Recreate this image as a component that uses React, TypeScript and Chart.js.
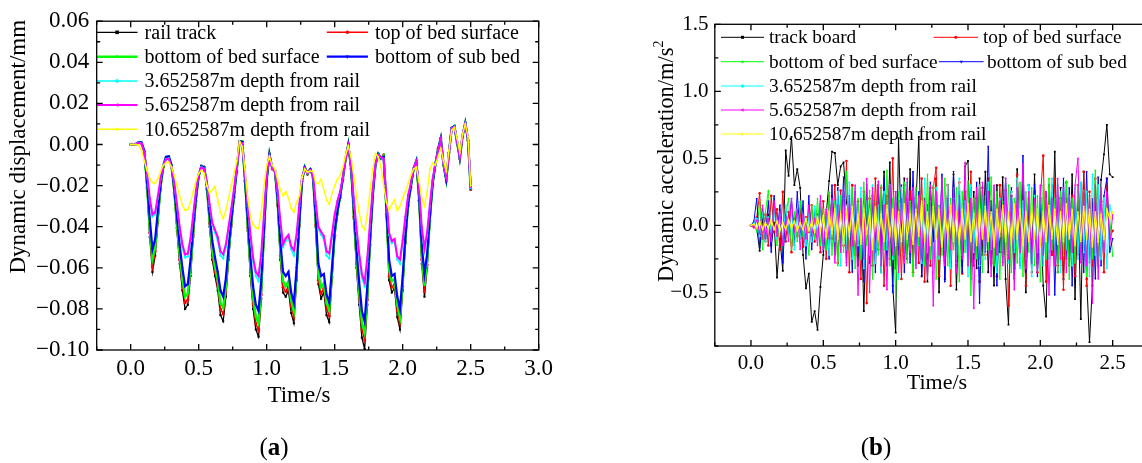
import React, { useEffect, useRef } from 'react';
import { Chart, registerables } from 'chart.js';

Chart.register(...registerables);

const FONT = "'Liberation Serif', 'Times New Roman', serif";

// time axis (s), shared by both panels
const TIME = [
  0.00, 0.02, 0.04, 0.06, 0.08, 0.10, 0.12, 0.14, 0.16, 0.18,
  0.20, 0.22, 0.24, 0.26, 0.28, 0.30, 0.32, 0.34, 0.36, 0.38,
  0.40, 0.42, 0.44, 0.46, 0.48, 0.50, 0.52, 0.54, 0.56, 0.58,
  0.60, 0.62, 0.64, 0.66, 0.68, 0.70, 0.72, 0.74, 0.76, 0.78,
  0.80, 0.82, 0.84, 0.86, 0.88, 0.90, 0.92, 0.94, 0.96, 0.98,
  1.00, 1.02, 1.04, 1.06, 1.08, 1.10, 1.12, 1.14, 1.16, 1.18,
  1.20, 1.22, 1.24, 1.26, 1.28, 1.30, 1.32, 1.34, 1.36, 1.38,
  1.40, 1.42, 1.44, 1.46, 1.48, 1.50, 1.52, 1.54, 1.56, 1.58,
  1.60, 1.62, 1.64, 1.66, 1.68, 1.70, 1.72, 1.74, 1.76, 1.78,
  1.80, 1.82, 1.84, 1.86, 1.88, 1.90, 1.92, 1.94, 1.96, 1.98,
  2.00, 2.02, 2.04, 2.06, 2.08, 2.10, 2.12, 2.14, 2.16, 2.18,
  2.20, 2.22, 2.24, 2.26, 2.28, 2.30, 2.32, 2.34, 2.36, 2.38,
  2.40, 2.42, 2.44, 2.46, 2.48, 2.50,
];

// ---------- panel (a): dynamic displacement (mm) ----------
const DISP_RAIL = [
  0, 0, 0.0002, 0.0010, 0.0006, -0.0040, -0.0220, -0.0450, -0.0620, -0.0540,
  -0.0380, -0.0220, -0.0110, -0.0065, -0.0060, -0.0110, -0.0240, -0.0420, -0.0580, -0.0710,
  -0.0800, -0.0780, -0.0640, -0.0450, -0.0280, -0.0160, -0.0105, -0.0110, -0.0220, -0.0400,
  -0.0560, -0.0640, -0.0710, -0.0830, -0.0860, -0.0740, -0.0560, -0.0400, -0.0260, -0.0130,
  0.0015, 0.0015, -0.0180, -0.0420, -0.0640, -0.0800, -0.0900, -0.0935, -0.0750, -0.0460,
  -0.0180, -0.0045, -0.0120, -0.0130, -0.0300, -0.0560, -0.0720, -0.0740, -0.0710, -0.0820,
  -0.0870, -0.0660, -0.0400, -0.0180, -0.0110, -0.0145, -0.0120, -0.0160, -0.0400, -0.0680,
  -0.0750, -0.0720, -0.0830, -0.0865, -0.0660, -0.0450, -0.0340, -0.0260, -0.0170, -0.0070,
  0.0003, -0.0120, -0.0360, -0.0600, -0.0780, -0.0940, -0.0995, -0.0780, -0.0500, -0.0260,
  -0.0100, -0.0045, -0.0070, -0.0050, -0.0350, -0.0660, -0.0720, -0.0700, -0.0840, -0.0900,
  -0.0710, -0.0480, -0.0300, -0.0210, -0.0120, -0.0080, -0.0280, -0.0580, -0.0740, -0.0600,
  -0.0380, -0.0200, -0.0100, -0.0020, 0.0030, -0.0100, -0.0180, -0.0040, 0.0080, 0.0090,
  0.0010, -0.0070, 0.0040, 0.0105, 0.0020, -0.0220,
];
const DISP_TOP_BED = [
  0, 0, 0.0002, 0.0010, 0.0006, -0.0040, -0.0210, -0.0430, -0.0595, -0.0520,
  -0.0370, -0.0215, -0.0110, -0.0065, -0.0060, -0.0110, -0.0235, -0.0405, -0.0560, -0.0685,
  -0.0770, -0.0755, -0.0620, -0.0440, -0.0275, -0.0158, -0.0105, -0.0110, -0.0215, -0.0385,
  -0.0540, -0.0620, -0.0685, -0.0800, -0.0825, -0.0715, -0.0545, -0.0390, -0.0255, -0.0128,
  0.0015, 0.0014, -0.0175, -0.0405, -0.0620, -0.0775, -0.0870, -0.0905, -0.0730, -0.0450,
  -0.0178, -0.0045, -0.0118, -0.0128, -0.0290, -0.0540, -0.0695, -0.0715, -0.0690, -0.0790,
  -0.0840, -0.0645, -0.0392, -0.0178, -0.0110, -0.0144, -0.0120, -0.0158, -0.0390, -0.0660,
  -0.0725, -0.0700, -0.0800, -0.0835, -0.0645, -0.0442, -0.0335, -0.0257, -0.0168, -0.0070,
  0.0003, -0.0118, -0.0350, -0.0580, -0.0750, -0.0900, -0.0950, -0.0755, -0.0488, -0.0255,
  -0.0099, -0.0045, -0.0069, -0.0052, -0.0340, -0.0640, -0.0695, -0.0680, -0.0810, -0.0870,
  -0.0690, -0.0470, -0.0296, -0.0208, -0.0119, -0.0080, -0.0272, -0.0560, -0.0715, -0.0585,
  -0.0372, -0.0197, -0.0099, -0.0021, 0.0030, -0.0099, -0.0177, -0.0040, 0.0080, 0.0090,
  0.0010, -0.0069, 0.0040, 0.0105, 0.0021, -0.0218,
];
const DISP_BOTTOM_BED = [
  0, 0, 0.0002, 0.0011, 0.0008, -0.0035, -0.0200, -0.0410, -0.0555, -0.0500,
  -0.0350, -0.0205, -0.0105, -0.0062, -0.0058, -0.0105, -0.0225, -0.0390, -0.0535, -0.0655,
  -0.0740, -0.0725, -0.0600, -0.0425, -0.0265, -0.0155, -0.0104, -0.0110, -0.0205, -0.0370,
  -0.0515, -0.0595, -0.0660, -0.0770, -0.0795, -0.0690, -0.0525, -0.0380, -0.0250, -0.0125,
  0.0016, 0.0014, -0.0170, -0.0390, -0.0595, -0.0745, -0.0835, -0.0870, -0.0705, -0.0435,
  -0.0175, -0.0046, -0.0115, -0.0126, -0.0280, -0.0515, -0.0665, -0.0690, -0.0665, -0.0760,
  -0.0810, -0.0625, -0.0382, -0.0175, -0.0110, -0.0143, -0.0121, -0.0155, -0.0375, -0.0630,
  -0.0695, -0.0675, -0.0770, -0.0805, -0.0625, -0.0432, -0.0330, -0.0254, -0.0166, -0.0070,
  0.0002, -0.0115, -0.0335, -0.0555, -0.0720, -0.0865, -0.0915, -0.0730, -0.0475, -0.0250,
  -0.0098, -0.0046, -0.0068, -0.0055, -0.0325, -0.0610, -0.0665, -0.0655, -0.0780, -0.0840,
  -0.0670, -0.0460, -0.0292, -0.0206, -0.0118, -0.0080, -0.0262, -0.0535, -0.0685, -0.0565,
  -0.0362, -0.0193, -0.0098, -0.0022, 0.0031, -0.0098, -0.0174, -0.0041, 0.0081, 0.0090,
  0.0011, -0.0068, 0.0041, 0.0105, 0.0022, -0.0216,
];
const DISP_SUB_BED = [
  0, 0, 0.0003, 0.0012, 0.0010, -0.0030, -0.0180, -0.0360, -0.0510, -0.0460,
  -0.0320, -0.0190, -0.0100, -0.0060, -0.0058, -0.0100, -0.0210, -0.0350, -0.0490, -0.0600,
  -0.0690, -0.0680, -0.0560, -0.0400, -0.0255, -0.0150, -0.0105, -0.0112, -0.0195, -0.0340,
  -0.0470, -0.0550, -0.0620, -0.0710, -0.0740, -0.0650, -0.0500, -0.0365, -0.0240, -0.0120,
  0.0014, 0.0012, -0.0160, -0.0360, -0.0545, -0.0690, -0.0780, -0.0810, -0.0660, -0.0410,
  -0.0170, -0.0048, -0.0112, -0.0125, -0.0260, -0.0470, -0.0620, -0.0640, -0.0620, -0.0720,
  -0.0770, -0.0600, -0.0370, -0.0172, -0.0112, -0.0142, -0.0122, -0.0150, -0.0345, -0.0580,
  -0.0640, -0.0630, -0.0730, -0.0770, -0.0600, -0.0420, -0.0322, -0.0250, -0.0165, -0.0070,
  0.0000, -0.0110, -0.0310, -0.0510, -0.0670, -0.0810, -0.0860, -0.0690, -0.0455, -0.0243,
  -0.0097, -0.0047, -0.0066, -0.0060, -0.0300, -0.0560, -0.0640, -0.0630, -0.0740, -0.0800,
  -0.0640, -0.0445, -0.0285, -0.0203, -0.0117, -0.0080, -0.0245, -0.0490, -0.0630, -0.0530,
  -0.0345, -0.0188, -0.0097, -0.0024, 0.0031, -0.0097, -0.0170, -0.0042, 0.0081, 0.0089,
  0.0012, -0.0066, 0.0042, 0.0104, 0.0024, -0.0214,
];
const DISP_D365 = [
  0, 0, 0.0002, 0.0009, 0.0004, -0.0040, -0.0150, -0.0270, -0.0350, -0.0340,
  -0.0260, -0.0170, -0.0100, -0.0070, -0.0068, -0.0110, -0.0190, -0.0300, -0.0410, -0.0500,
  -0.0550, -0.0545, -0.0470, -0.0350, -0.0230, -0.0145, -0.0110, -0.0118, -0.0185, -0.0300,
  -0.0390, -0.0430, -0.0470, -0.0540, -0.0555, -0.0500, -0.0410, -0.0315, -0.0220, -0.0115,
  0.0010, 0.0005, -0.0140, -0.0300, -0.0450, -0.0570, -0.0640, -0.0665, -0.0550, -0.0350,
  -0.0150, -0.0055, -0.0115, -0.0130, -0.0230, -0.0380, -0.0500, -0.0470, -0.0450, -0.0510,
  -0.0540, -0.0450, -0.0300, -0.0160, -0.0115, -0.0140, -0.0125, -0.0145, -0.0290, -0.0410,
  -0.0440, -0.0460, -0.0540, -0.0555, -0.0450, -0.0350, -0.0280, -0.0230, -0.0160, -0.0070,
  -0.0005, -0.0105, -0.0270, -0.0420, -0.0550, -0.0650, -0.0690, -0.0570, -0.0390, -0.0220,
  -0.0095, -0.0050, -0.0062, -0.0070, -0.0260, -0.0440, -0.0480, -0.0470, -0.0560, -0.0580,
  -0.0480, -0.0360, -0.0250, -0.0190, -0.0115, -0.0082, -0.0220, -0.0410, -0.0520, -0.0440,
  -0.0300, -0.0175, -0.0095, -0.0030, 0.0025, -0.0095, -0.0160, -0.0045, 0.0078, 0.0086,
  0.0014, -0.0062, 0.0045, 0.0102, 0.0028, -0.0210,
];
const DISP_D565 = [
  0, 0, 0.0002, 0.0008, 0.0003, -0.0040, -0.0140, -0.0260, -0.0340, -0.0330,
  -0.0250, -0.0165, -0.0100, -0.0072, -0.0070, -0.0110, -0.0185, -0.0290, -0.0400, -0.0485,
  -0.0535, -0.0530, -0.0455, -0.0340, -0.0225, -0.0145, -0.0112, -0.0120, -0.0180, -0.0290,
  -0.0380, -0.0415, -0.0450, -0.0520, -0.0535, -0.0485, -0.0400, -0.0310, -0.0215, -0.0112,
  0.0010, 0.0005, -0.0135, -0.0290, -0.0435, -0.0550, -0.0620, -0.0640, -0.0530, -0.0340,
  -0.0148, -0.0057, -0.0115, -0.0130, -0.0225, -0.0370, -0.0485, -0.0455, -0.0440, -0.0495,
  -0.0515, -0.0435, -0.0290, -0.0158, -0.0117, -0.0140, -0.0126, -0.0145, -0.0280, -0.0400,
  -0.0425, -0.0445, -0.0520, -0.0530, -0.0435, -0.0340, -0.0275, -0.0228, -0.0158, -0.0072,
  -0.0006, -0.0102, -0.0262, -0.0405, -0.0530, -0.0630, -0.0670, -0.0550, -0.0375, -0.0215,
  -0.0094, -0.0052, -0.0060, -0.0072, -0.0255, -0.0430, -0.0470, -0.0460, -0.0545, -0.0560,
  -0.0465, -0.0350, -0.0245, -0.0188, -0.0114, -0.0083, -0.0215, -0.0400, -0.0505, -0.0425,
  -0.0290, -0.0170, -0.0094, -0.0032, 0.0024, -0.0094, -0.0157, -0.0046, 0.0077, 0.0085,
  0.0015, -0.0060, 0.0046, 0.0101, 0.0030, -0.0208,
];
const DISP_D1065 = [
  0, 0, 0, -0.0005, -0.0030, -0.0080, -0.0125, -0.0165, -0.0185, -0.0188,
  -0.0165, -0.0130, -0.0100, -0.0088, -0.0086, -0.0110, -0.0150, -0.0200, -0.0250, -0.0295,
  -0.0320, -0.0315, -0.0280, -0.0230, -0.0175, -0.0140, -0.0126, -0.0140, -0.0200, -0.0235,
  -0.0220, -0.0205, -0.0270, -0.0330, -0.0360, -0.0320, -0.0260, -0.0200, -0.0140, -0.0080,
  0.0015, -0.0010, -0.0120, -0.0260, -0.0350, -0.0390, -0.0405, -0.0410, -0.0330, -0.0200,
  -0.0100, -0.0060, -0.0100, -0.0120, -0.0170, -0.0220, -0.0250, -0.0230, -0.0260, -0.0310,
  -0.0330, -0.0280, -0.0250, -0.0160, -0.0120, -0.0135, -0.0130, -0.0130, -0.0185, -0.0190,
  -0.0170, -0.0220, -0.0270, -0.0290, -0.0240, -0.0200, -0.0170, -0.0150, -0.0110, -0.0050,
  -0.0008, -0.0060, -0.0150, -0.0250, -0.0330, -0.0395, -0.0415, -0.0340, -0.0220, -0.0120,
  -0.0045, -0.0060, -0.0110, -0.0200, -0.0280, -0.0320, -0.0290, -0.0270, -0.0320, -0.0300,
  -0.0260, -0.0230, -0.0190, -0.0150, -0.0120, -0.0110, -0.0180, -0.0260, -0.0300, -0.0230,
  -0.0120, -0.0090, -0.0100, -0.0060, -0.0020, -0.0080, -0.0130, -0.0030, 0.0070, 0.0082,
  0.0030, -0.0040, 0.0050, 0.0098, 0.0040, -0.0200,
];

// ---------- panel (b): dynamic acceleration (m/s^2) ----------
const ACC_TRACK = [
  0, 0.01, -0.02, -0.19, 0.05, -0.12, 0.08, -0.15, 0.02, -0.39,
  -0.10, -0.34, 0.56, 0.37, 0.66, 0.30, 0.42, 0.28, -0.22, -0.47,
  -0.36, -0.72, -0.64, -0.78, -0.46, -0.22, 0.08, 0.33, 0.55, 0.54,
  0.30, 0.44, 0.47, 0.17, 0.08, -0.20, 0.12, -0.30, 0.18, -0.64,
  0.10, -0.28, 0.22, -0.15, 0.30, -0.35, 0.40, -0.20, 0.47, -0.45,
  -0.80, 0.65, -0.10, 0.35, -0.25, 0.42, -0.30, 0.15, 0.66, -0.38,
  0.20, -0.42, 0.28, -0.12, 0.35, -0.50, 0.22, -0.40, 0.30, -0.18,
  0.38, -0.48, 0.15, -0.30, 0.44, 0.48, -0.40, 0.25, -0.32, 0.35,
  -0.22, 0.40, -0.35, 0.18, -0.45, 0.30, -0.20, 0.36, -0.40, -0.74,
  0.25, -0.30, 0.42, -0.15, 0.30, -0.50, 0.20, -0.35, 0.38, -0.28,
  0.15, -0.45, -0.68, 0.30, -0.22, 0.55, -0.35, 0.28, -0.40, 0.20,
  -0.30, 0.38, -0.55, 0.25, -0.70, 0.40, -0.40, -0.87, -0.45, 0.20,
  -0.30, 0.34, 0.53, 0.75, 0.38, 0.36,
];
const ACC_TOP_BED = [
  0, -0.01, 0.06, 0.24, -0.10, 0.08, -0.15, 0.22, -0.05, 0.12,
  -0.18, 0.25, -0.12, 0.10, -0.20, 0.05, -0.08, 0.12, -0.16, 0.06,
  -0.05, 0.15, -0.12, 0.08, -0.20, 0.18, -0.25, 0.22, -0.10, 0.30,
  -0.28, 0.26, -0.15, 0.48, -0.35, 0.30, -0.22, 0.18, -0.40, 0.25,
  -0.58, 0.20, -0.30, 0.35, -0.18, 0.28, -0.45, 0.22, -0.25, 0.50,
  -0.32, 0.18, -0.40, 0.30, -0.15, 0.25, -0.35, 0.20, -0.28, 0.35,
  -0.42, 0.15, -0.30, 0.28, 0.43, -0.38, 0.22, -0.20, 0.30, -0.45,
  0.18, -0.25, 0.32, -0.36, 0.25, -0.15, 0.40, -0.30, 0.20, -0.42,
  0.28, -0.22, 0.35, -0.28, 0.15, -0.38, 0.30, -0.20, 0.26, -0.60,
  0.22, -0.32, 0.38, -0.25, 0.18, -0.45, 0.30, -0.18, 0.25, -0.35,
  0.20, 0.52, -0.42, 0.28, -0.22, 0.35, -0.30, 0.20, -0.48, 0.32,
  -0.25, 0.22, -0.38, 0.30, -0.20, 0.40, -0.45, 0.25, -0.30, 0.35,
  -0.22, 0.18, -0.35, 0.35, -0.10, -0.04,
];
const ACC_BOTTOM_BED = [
  0, 0.02, -0.05, 0.18, -0.18, 0.10, 0.26, -0.12, 0.20, -0.15,
  0.12, -0.20, 0.08, 0.20, -0.18, 0.10, -0.12, 0.18, -0.08, 0.05,
  -0.22, 0.15, -0.10, 0.20, -0.15, 0.12, -0.18, 0.25, -0.22, 0.18,
  -0.30, 0.22, -0.20, 0.40, -0.18, 0.28, -0.32, 0.20, -0.25, 0.32,
  -0.15, 0.26, -0.40, 0.18, -0.22, 0.30, -0.18, 0.41, -0.30, 0.20,
  -0.55, 0.25, -0.20, 0.32, -0.28, 0.18, -0.38, 0.28, -0.15, 0.22,
  -0.30, 0.38, -0.25, 0.30, -0.40, 0.15, -0.22, 0.35, -0.30, 0.20,
  -0.18, 0.28, -0.42, 0.25, -0.20, 0.33, -0.52, 0.20, -0.25, 0.30,
  -0.35, 0.22, -0.18, 0.36, -0.30, 0.25, -0.40, 0.18, -0.22, 0.30,
  -0.35, 0.20, -0.28, 0.32, -0.38, 0.25, -0.20, 0.28, -0.30, 0.22,
  -0.42, 0.30, -0.25, 0.35, -0.18, 0.20, -0.35, 0.25, -0.22, 0.33,
  -0.40, 0.20, -0.28, 0.30, -0.18, 0.26, -0.38, 0.22, -0.25, 0.41,
  -0.30, 0.28, -0.20, 0.18, 0.05, -0.23,
];
const ACC_SUB_BED = [
  0, 0.03, 0.20, -0.17, 0.12, -0.10, 0.18, -0.20, 0.22, -0.08,
  0.15, -0.28, 0.10, -0.05, 0.20, -0.15, 0.25, -0.10, 0.18, -0.25,
  0.22, -0.18, 0.12, -0.08, 0.16, -0.20, 0.10, -0.25, 0.30, -0.22,
  0.28, -0.18, 0.36, -0.28, 0.20, -0.35, 0.25, -0.20, 0.15, -0.42,
  0.30, -0.25, 0.22, -0.35, 0.28, -0.18, 0.35, -0.30, 0.18, -0.50,
  0.25, -0.22, 0.30, -0.35, 0.20, -0.28, 0.40, -0.20, 0.25, -0.38,
  0.18, -0.25, 0.32, -0.30, 0.22, -0.18, 0.38, -0.42, 0.20, -0.28,
  0.40, -0.22, 0.25, -0.35, 0.18, -0.30, 0.28, -0.25, 0.32, -0.58,
  0.22, -0.20, 0.59, -0.30, 0.25, -0.45, 0.20, -0.28, 0.35, -0.22,
  0.28, -0.40, 0.22, -0.30, 0.52, -0.35, 0.20, -0.25, 0.30, -0.38,
  0.18, -0.28, 0.25, -0.20, 0.30, -0.52, 0.22, -0.30, 0.35, -0.25,
  0.28, -0.45, 0.20, -0.22, 0.32, -0.35, 0.40, -0.28, 0.20, -0.40,
  0.36, -0.30, 0.22, 0.35, -0.20, -0.10,
];
const ACC_D365 = [
  0, 0.01, 0.05, -0.08, 0.10, -0.12, 0.06, -0.05, 0.12, -0.10,
  0.08, -0.12, 0.15, -0.06, 0.10, -0.18, 0.12, -0.10, 0.05, -0.15,
  0.08, -0.12, 0.14, -0.10, 0.18, -0.15, 0.12, -0.22, 0.18, -0.12,
  0.25, -0.30, 0.20, -0.18, 0.32, -0.25, 0.22, -0.15, 0.28, -0.32,
  0.18, -0.22, 0.30, -0.28, 0.15, -0.35, 0.25, -0.18, 0.30, -0.25,
  0.20, -0.40, 0.28, -0.22, 0.32, -0.18, 0.25, -0.30, 0.20, -0.28,
  0.35, -0.20, 0.18, -0.35, 0.28, -0.25, 0.22, -0.18, 0.30, -0.32,
  0.20, -0.28, 0.35, -0.22, 0.18, -0.38, 0.30, -0.20, 0.25, -0.30,
  0.22, -0.25, 0.32, -0.18, 0.28, -0.35, 0.20, -0.22, 0.30, -0.28,
  0.25, -0.20, 0.35, -0.32, 0.18, -0.25, 0.30, -0.38, 0.22, -0.20,
  0.28, -0.30, 0.20, -0.25, 0.35, -0.22, 0.30, -0.35, 0.25, -0.18,
  0.22, -0.30, 0.28, -0.25, 0.32, -0.20, 0.25, -0.38, 0.38, -0.22,
  0.30, -0.25, 0.20, -0.32, 0.15, 0.05,
];
const ACC_D565 = [
  0, -0.02, 0.04, -0.06, 0.15, -0.10, 0.05, -0.12, 0.18, -0.08,
  0.10, -0.15, 0.06, -0.12, 0.20, -0.05, 0.12, -0.18, 0.08, -0.10,
  0.15, -0.08, 0.05, -0.15, 0.22, -0.18, 0.12, -0.10, 0.20, -0.28,
  0.15, -0.20, 0.25, -0.30, 0.22, -0.15, 0.30, -0.52, 0.20, -0.25,
  0.35, -0.50, 0.28, -0.20, 0.33, -0.30, 0.15, -0.48, 0.30, -0.22,
  0.25, -0.35, 0.20, -0.28, 0.35, -0.20, 0.28, -0.32, 0.22, -0.25,
  0.18, -0.40, 0.30, -0.60, 0.25, -0.22, 0.35, -0.30, 0.20, -0.18,
  0.28, -0.35, 0.22, -0.25, 0.47, -0.30, 0.20, -0.62, 0.28, -0.25,
  0.32, -0.20, 0.25, -0.38, 0.30, -0.22, 0.18, -0.30, 0.35, -0.25,
  0.22, -0.48, 0.28, -0.20, 0.46, -0.32, 0.25, -0.28, 0.20, -0.35,
  0.30, -0.22, 0.25, -0.52, 0.20, -0.30, 0.35, -0.25, 0.28, -0.35,
  0.22, -0.20, 0.30, 0.50, -0.28, 0.25, -0.30, 0.22, -0.58, 0.30,
  -0.40, 0.28, -0.20, 0.25, -0.15, 0.08,
];
const ACC_D1065 = [
  0, 0.01, -0.02, 0.03, -0.03, 0.02, -0.02, 0.04, -0.03, 0.03,
  -0.04, 0.02, -0.03, 0.04, -0.02, 0.03, -0.04, 0.02, -0.03, 0.05,
  -0.04, 0.03, -0.05, 0.06, -0.04, 0.07, -0.08, 0.10, -0.06, 0.12,
  -0.10, 0.08, -0.12, 0.10, -0.08, 0.14, -0.10, 0.08, -0.14, 0.12,
  -0.06, 0.10, -0.18, 0.14, -0.10, 0.08, -0.12, 0.15, -0.08, 0.12,
  -0.15, 0.10, -0.12, 0.16, -0.10, 0.08, -0.14, 0.12, -0.08, 0.18,
  -0.12, 0.10, -0.15, 0.14, -0.10, 0.12, -0.16, 0.10, -0.08, 0.15,
  -0.12, 0.10, -0.14, 0.12, -0.10, 0.16, -0.12, 0.08, -0.15, 0.12,
  -0.10, 0.14, -0.12, 0.10, -0.16, 0.12, -0.08, 0.15, -0.12, 0.10,
  -0.14, 0.16, -0.10, 0.12, -0.15, 0.10, -0.12, 0.14, -0.10, 0.12,
  -0.16, 0.10, -0.12, 0.15, -0.10, 0.12, -0.14, 0.10, -0.12, 0.16,
  -0.10, 0.12, -0.15, 0.10, -0.12, 0.14, -0.10, 0.12, -0.16, 0.10,
  -0.12, 0.08, -0.10, 0.12, 0.05, 0.10,
];

const LABELS_A = [
  'rail track', 'top of bed surface', 'bottom of bed surface', 'bottom of sub bed',
  '3.652587m depth from rail', '5.652587m depth from rail', '10.652587m depth from rail',
];
const LABELS_B = [
  'track board', 'top of bed surface', 'bottom of bed surface', 'bottom of sub bed',
  '3.652587m depth from rail', '5.652587m depth from rail', '10.652587m depth from rail',
];
const COLORS = ['#000000', '#ff0000', '#00ff00', '#0000ff', '#00ffff', '#ff00ff', '#ffff00'];
const WIDTHS_A = [1.3, 1.5, 2.4, 2.2, 1.5, 2.0, 1.4];
const MARKERS: { style: string; rot: number }[] = [
  { style: 'rect', rot: 0 }, { style: 'circle', rot: 0 }, { style: 'triangle', rot: 0 },
  { style: 'triangle', rot: 180 }, { style: 'rectRot', rot: 0 }, { style: 'triangle', rot: -90 },
  { style: 'triangle', rot: 90 },
];

const fmt = (v: number, d: number) => (v < -1e-9 ? '\u2212' : '') + Math.abs(v).toFixed(d);

type LegendItem = { idx: number; label: string; x1: number; x2: number; tx: number; y: number };
type Part = { t: string; bold?: boolean; size?: number; rise?: number };
type Txt = { parts: Part[]; x: number; y: number; size: number; rot?: boolean; align: 'center' | 'left' };

function drawMarker(ctx: CanvasRenderingContext2D, idx: number, x: number, y: number, r: number) {
  const m = MARKERS[idx];
  ctx.save();
  ctx.fillStyle = COLORS[idx];
  ctx.translate(x, y);
  ctx.rotate((m.rot * Math.PI) / 180);
  ctx.beginPath();
  if (m.style === 'rect') ctx.rect(-r, -r, 2 * r, 2 * r);
  else if (m.style === 'circle') ctx.arc(0, 0, r, 0, Math.PI * 2);
  else if (m.style === 'rectRot') {
    ctx.moveTo(0, -r * 1.3); ctx.lineTo(r * 1.3, 0); ctx.lineTo(0, r * 1.3); ctx.lineTo(-r * 1.3, 0); ctx.closePath();
  } else {
    ctx.moveTo(0, -r * 1.2); ctx.lineTo(r * 1.1, r * 0.7); ctx.lineTo(-r * 1.1, r * 0.7); ctx.closePath();
  }
  ctx.fill();
  ctx.restore();
}

function drawTxt(ctx: CanvasRenderingContext2D, tx: Txt) {
  ctx.save();
  ctx.translate(tx.x, tx.y);
  if (tx.rot) ctx.rotate(-Math.PI / 2);
  ctx.textBaseline = 'alphabetic';
  ctx.textAlign = 'left';
  ctx.fillStyle = '#000';
  const fontOf = (p: Part) => `${p.bold ? 'bold ' : ''}${p.size ?? tx.size}px ${FONT}`;
  let total = 0;
  for (const p of tx.parts) { ctx.font = fontOf(p); total += ctx.measureText(p.t).width; }
  let cx = tx.align === 'center' ? -total / 2 : 0;
  for (const p of tx.parts) {
    ctx.font = fontOf(p);
    ctx.fillText(p.t, cx, -(p.rise ?? 0));
    cx += ctx.measureText(p.t).width;
  }
  ctx.restore();
}

function decorPlugin(legend: LegendItem[], legendSize: number, widths: number[], markR: number, texts: Txt[]) {
  return {
    id: 'decor',
    afterDatasetsDraw(chart: any) {
      const ctx: CanvasRenderingContext2D = chart.ctx;
      ctx.save();
      for (const it of legend) {
        ctx.strokeStyle = COLORS[it.idx];
        ctx.lineWidth = widths[it.idx];
        ctx.beginPath();
        ctx.moveTo(it.x1, it.y);
        ctx.lineTo(it.x2, it.y);
        ctx.stroke();
        drawMarker(ctx, it.idx, (it.x1 + it.x2) / 2, it.y, markR);
        ctx.fillStyle = '#000';
        ctx.font = `${legendSize}px ${FONT}`;
        ctx.textBaseline = 'middle';
        ctx.textAlign = 'left';
        ctx.fillText(it.label, it.tx, it.y + 1);
      }
      ctx.restore();
    },
    afterDraw(chart: any) {
      const ctx: CanvasRenderingContext2D = chart.ctx;
      const a = chart.chartArea;
      const xs = chart.scales.x;
      const ys = chart.scales.y;
      ctx.save();
      ctx.strokeStyle = '#000';
      ctx.lineWidth = 1.3;
      ctx.strokeRect(a.left, a.top, a.right - a.left, a.bottom - a.top);
      ctx.beginPath();
      for (const t of xs.ticks) {
        const p = xs.getPixelForValue(t.value);
        const len = t.label ? 6 : 3.5;
        ctx.moveTo(p, a.bottom); ctx.lineTo(p, a.bottom - len);
        ctx.moveTo(p, a.top); ctx.lineTo(p, a.top + len);
      }
      for (const t of ys.ticks) {
        const p = ys.getPixelForValue(t.value);
        const len = t.label ? 6 : 3.5;
        ctx.moveTo(a.left, p); ctx.lineTo(a.left + len, p);
        ctx.moveTo(a.right, p); ctx.lineTo(a.right - len, p);
      }
      ctx.stroke();
      ctx.restore();
      for (const tx of texts) drawTxt(ctx, tx);
    },
  };
}

function makeDatasets(series: number[][], labels: string[], widths: number[], pr: number) {
  return series.map((ys, i) => ({
    label: labels[i],
    data: ys.map((y, j) => ({ x: TIME[j], y })),
    borderColor: COLORS[i],
    backgroundColor: COLORS[i],
    borderWidth: widths[i],
    pointRadius: pr,
    pointStyle: MARKERS[i].style,
    pointRotation: MARKERS[i].rot,
    pointBorderWidth: 0,
    pointHoverRadius: 0,
    tension: 0,
    fill: false,
    order: series.length - 1 - i,
  }));
}

function axisBase(size: number, padding: number) {
  return {
    type: 'linear' as const,
    grid: { display: false, drawTicks: false },
    border: { display: false },
    ticks: {
      color: '#000',
      font: { family: FONT, size },
      padding,
      autoSkip: false,
      maxRotation: 0,
      minRotation: 0,
      maxTicksLimit: 100,
    },
  };
}

function configA(): any {
  const series = [DISP_RAIL, DISP_TOP_BED, DISP_BOTTOM_BED, DISP_SUB_BED, DISP_D365, DISP_D565, DISP_D1065];
  const c1 = { x1: 96.7, x2: 137.5, tx: 144.6 };
  const c2 = { x1: 326.8, x2: 367.9, tx: 375 };
  const legend: LegendItem[] = [
    { idx: 0, label: LABELS_A[0], ...c1, y: 32.3 },
    { idx: 1, label: LABELS_A[1], ...c2, y: 32.3 },
    { idx: 2, label: LABELS_A[2], ...c1, y: 56.7 },
    { idx: 3, label: LABELS_A[3], ...c2, y: 56.7 },
    { idx: 4, label: LABELS_A[4], ...c1, y: 81 },
    { idx: 5, label: LABELS_A[5], ...c1, y: 105 },
    { idx: 6, label: LABELS_A[6], ...c1, y: 129.3 },
  ];
  const texts: Txt[] = [
    { parts: [{ t: 'Dynamic displacement/mm' }], x: 25, y: 146.7, size: 23, rot: true, align: 'center' },
    { parts: [{ t: 'Time/s' }], x: 299, y: 401.7, size: 23, align: 'center' },
    { parts: [{ t: '(' }, { t: 'a', bold: true }, { t: ')' }], x: 274, y: 455, size: 25, align: 'center' },
  ];
  const xb = axisBase(23, 5);
  const yb = axisBase(23, 7.4);
  return {
    type: 'line',
    data: { datasets: makeDatasets(series, LABELS_A, WIDTHS_A, 1.5) },
    options: {
      animation: false,
      responsive: false,
      devicePixelRatio: 1,
      events: [],
      layout: { padding: { left: 0, right: 32.3, top: 20.4, bottom: 0 } },
      plugins: { legend: { display: false }, tooltip: { enabled: false } },
      scales: {
        x: {
          ...xb, min: -0.25, max: 3.0,
          ticks: { ...xb.ticks, stepSize: 0.25, callback: (v: any) => (Math.round(Number(v) * 100) % 50 === 0 ? fmt(Number(v), 1) : '') },
          afterFit: (s: any) => { s.height = 113; },
        },
        y: {
          ...yb, min: -0.1, max: 0.06,
          ticks: { ...yb.ticks, stepSize: 0.01, callback: (v: any) => (Math.round(Number(v) * 100) % 2 === 0 ? fmt(Number(v), 2) : '') },
          afterFit: (s: any) => { s.width = 96.7; },
        },
      },
    },
    plugins: [decorPlugin(legend, 20, WIDTHS_A, 1.8, texts)],
  };
}

const B_OFF = 571;
const WIDTHS_B = [1, 1, 1, 1, 1, 1, 1.2];

function configB(): any {
  const series = [ACC_TRACK, ACC_TOP_BED, ACC_BOTTOM_BED, ACC_SUB_BED, ACC_D365, ACC_D565, ACC_D1065];
  const c1 = { x1: 721 - B_OFF, x2: 764 - B_OFF, tx: 769 - B_OFF };
  const legend: LegendItem[] = [
    { idx: 0, label: LABELS_B[0], ...c1, y: 37.3 },
    { idx: 1, label: LABELS_B[1], x1: 933.6 - B_OFF, x2: 978 - B_OFF, tx: 983 - B_OFF, y: 37.3 },
    { idx: 2, label: LABELS_B[2], ...c1, y: 61.7 },
    { idx: 3, label: LABELS_B[3], x1: 939 - B_OFF, x2: 983.6 - B_OFF, tx: 987 - B_OFF, y: 61.7 },
    { idx: 4, label: LABELS_B[4], ...c1, y: 86 },
    { idx: 5, label: LABELS_B[5], ...c1, y: 110 },
    { idx: 6, label: LABELS_B[6], ...c1, y: 134 },
  ];
  const texts: Txt[] = [
    { parts: [{ t: 'Dynamic acceleration/m/s' }, { t: '2', size: 14, rise: 10 }], x: 673 - B_OFF, y: 282, size: 22.4, rot: true, align: 'left' },
    { parts: [{ t: 'Time/s' }], x: 937 - B_OFF, y: 389.3, size: 22, align: 'center' },
    { parts: [{ t: '(' }, { t: 'b', bold: true }, { t: ')' }], x: 876 - B_OFF, y: 455, size: 25, align: 'center' },
  ];
  const xb = axisBase(21, 4.7);
  const yb = axisBase(21, 6.4);
  return {
    type: 'line',
    data: { datasets: makeDatasets(series, LABELS_B, WIDTHS_B, 1.3) },
    options: {
      animation: false,
      responsive: false,
      devicePixelRatio: 1,
      events: [],
      layout: { padding: { left: 0, right: 26, top: 24.3, bottom: 0 } },
      plugins: { legend: { display: false }, tooltip: { enabled: false } },
      scales: {
        x: {
          ...xb, min: -0.25, max: 3.0,
          ticks: { ...xb.ticks, stepSize: 0.25, callback: (v: any) => (Math.round(Number(v) * 100) % 50 === 0 ? fmt(Number(v), 1) : '') },
          afterFit: (s: any) => { s.height = 117; },
        },
        y: {
          ...yb, min: -0.9, max: 1.5,
          ticks: { ...yb.ticks, stepSize: 0.25, callback: (v: any) => (Math.round(Number(v) * 100) % 50 === 0 ? fmt(Number(v), 1) : '') },
          afterFit: (s: any) => { s.width = 714.8 - B_OFF; },
        },
      },
    },
    plugins: [decorPlugin(legend, 19.3, WIDTHS_B, 1.5, texts)],
  };
}

export default function App() {
  const refA = useRef<HTMLCanvasElement>(null);
  const refB = useRef<HTMLCanvasElement>(null);
  useEffect(() => {
    const a = new Chart(refA.current as HTMLCanvasElement, configA());
    const b = new Chart(refB.current as HTMLCanvasElement, configB());
    return () => { a.destroy(); b.destroy(); };
  }, []);
  return (
    <div style={{ position: 'absolute', left: 0, top: 0, width: 1142, height: 463, overflow: 'hidden', background: '#ffffff' }}>
      <canvas ref={refA} width={571} height={463} style={{ position: 'absolute', left: 0, top: 0, width: 571, height: 463 }} />
      <canvas ref={refB} width={640} height={463} style={{ position: 'absolute', left: B_OFF, top: 0, width: 640, height: 463 }} />
    </div>
  );
}
